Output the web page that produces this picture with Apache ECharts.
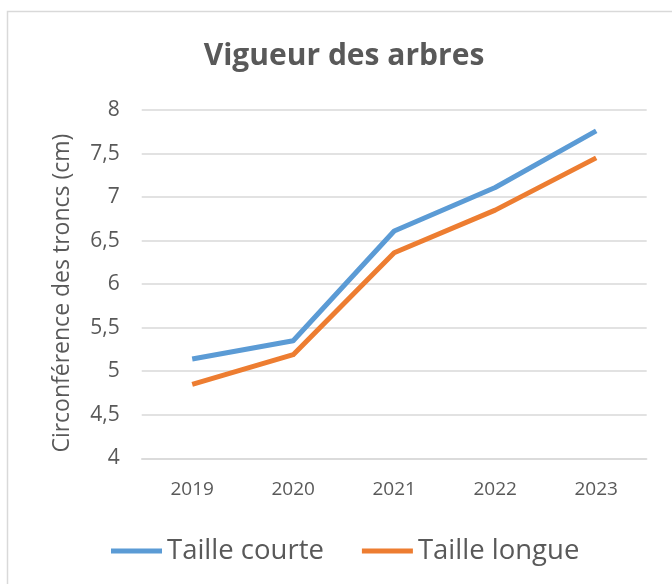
<!DOCTYPE html>
<html>
<head>
<meta charset="utf-8">
<script src="https://cdn.jsdelivr.net/npm/echarts@6/dist/echarts.min.js"></script>
<style>
    html, body { margin: 0; padding: 0; background: #ffffff; }
    #chartArea { width: 672px; height: 584px; }
</style>
</head>
<body>
<div id="chartArea"></div>
<script>
var years = ['2019', '2020', '2021', '2022', '2023'];
var tailleCourte = [5.14, 5.35, 6.61, 7.11, 7.76];
var tailleLongue = [4.85, 5.19, 6.36, 6.85, 7.45];
var seriesNames = ['Taille courte', 'Taille longue'];

var textColor = '#595959';
var fontFamily = '"Open Sans", sans-serif';

var myChart = echarts.init(document.getElementById('chartArea'));

myChart.setOption({
    animation: false,
    backgroundColor: '#ffffff',
    graphic: [{
        type: 'rect',
        shape: { x: 7.5, y: 11.5, width: 700, height: 600 },
        style: { fill: 'none', stroke: '#d9d9d9', lineWidth: 1.5 },
        silent: true
    }],
    title: {
        text: 'Vigueur des arbres',
        left: 339,
        top: 36,
        textAlign: 'center',
        textStyle: {
            color: textColor,
            fontFamily: fontFamily,
            fontWeight: 'bold',
            fontSize: 30
        }
    },
    grid: {
        left: 141.7,
        right: 25.3,
        top: 110,
        bottom: 125.7,
        containLabel: false
    },
    xAxis: {
        type: 'category',
        data: years,
        boundaryGap: true,
        axisLine: { show: true, lineStyle: { color: '#d9d9d9', width: 1.5 } },
        axisTick: { show: false },
        axisLabel: {
            color: textColor,
            fontFamily: fontFamily,
            fontSize: 19,
            margin: 22
        }
    },
    yAxis: {
        type: 'value',
        min: 4,
        max: 8,
        interval: 0.5,
        name: 'Circonférence des troncs (cm)',
        nameLocation: 'middle',
        nameGap: 68,
        nameTextStyle: {
            color: textColor,
            fontFamily: fontFamily,
            fontSize: 23,
            padding: [0, 18, 0, 0]
        },
        axisLine: { show: false },
        axisTick: { show: false },
        splitLine: { lineStyle: { color: '#d9d9d9', width: 1.5 } },
        axisLabel: {
            color: textColor,
            fontFamily: fontFamily,
            fontSize: 21,
            margin: 22,
            formatter: function(val) {
                return String(val).replace('.', ',');
            }
        }
    },
    legend: {
        data: seriesNames,
        left: 106,
        top: 532,
        icon: 'rect',
        itemWidth: 51,
        itemHeight: 5,
        itemGap: 38,
        textStyle: {
            color: textColor,
            fontFamily: fontFamily,
            fontSize: 27.5
        }
    },
    series: [{
        name: seriesNames[0],
        type: 'line',
        data: tailleCourte,
        symbol: 'none',
        color: '#5b9bd5',
        lineStyle: { width: 5, color: '#5b9bd5', join: 'round' }
    }, {
        name: seriesNames[1],
        type: 'line',
        data: tailleLongue,
        symbol: 'none',
        color: '#ed7d31',
        lineStyle: { width: 5, color: '#ed7d31', join: 'round' }
    }]
});
</script>
</body>
</html>
